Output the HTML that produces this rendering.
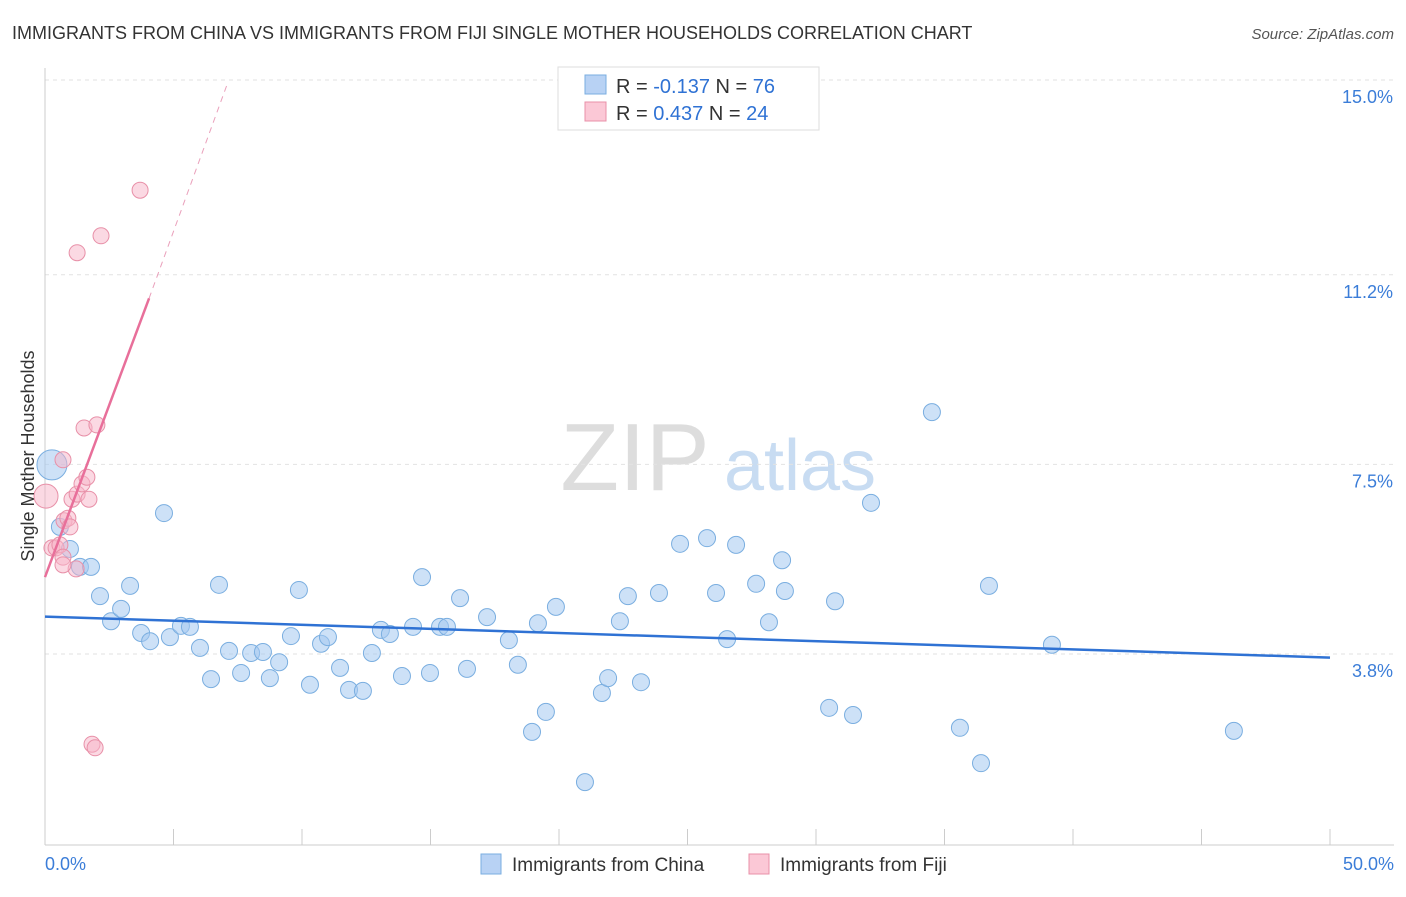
<!DOCTYPE html>
<html><head><meta charset="utf-8"><style>
body{margin:0;background:#fff;font-family:"Liberation Sans",sans-serif;}
svg text{font-family:"Liberation Sans",sans-serif;}
</style></head><body>
<svg id="chart" width="1406" height="892" xmlns="http://www.w3.org/2000/svg">
<text x="12" y="39" font-size="18" fill="#333">IMMIGRANTS FROM CHINA VS IMMIGRANTS FROM FIJI SINGLE MOTHER HOUSEHOLDS CORRELATION CHART</text>
<text x="1394" y="39" font-size="15" fill="#555" text-anchor="end" font-style="italic">Source: ZipAtlas.com</text>
<g>
<text x="635" y="490" font-size="96" fill="#ddd" font-family="Liberation Serif" text-anchor="middle">ZIP</text>
<text x="800" y="490" font-size="72" fill="#c8dcf2" text-anchor="middle">atlas</text>
</g>
<g id="grid"></g>
<g id="axes"></g>
<g id="marks"></g>
<text transform="translate(34,456) rotate(-90)" font-size="18" fill="#333" text-anchor="middle">Single Mother Households</text>
<g>
<rect x="558" y="67" width="261" height="63" fill="#fff" stroke="#ddd"/>
<rect x="585" y="75" width="21" height="19" fill="#b8d2f4" stroke="#7aaee0"/>
<rect x="585" y="102" width="21" height="19" fill="#fbc8d6" stroke="#e890a8"/>
<text x="616" y="93" font-size="20" fill="#333">R = <tspan fill="#2f72d4">-0.137</tspan>   N = <tspan fill="#2f72d4">76</tspan></text>
<text x="616" y="120" font-size="20" fill="#333">R =  <tspan fill="#2f72d4">0.437</tspan>   N = <tspan fill="#2f72d4">24</tspan></text>
</g>
<g>
<rect x="481" y="854" width="20" height="20" fill="#b8d2f4" stroke="#7aaee0"/>
<text x="512" y="871" font-size="19" fill="#333">Immigrants from China</text>
<rect x="749" y="854" width="20" height="20" fill="#fbc8d6" stroke="#e890a8"/>
<text x="780" y="871" font-size="19" fill="#333">Immigrants from Fiji</text>
</g>
</svg>
<script>
const yTicks=[15.0,11.2,7.5,3.8];
const yTickLabels=["15.0%","11.2%","7.5%","3.8%"];
const xTickLabels=["0.0%","50.0%"];
const chinaX=[0.27,0.58,0.97,1.36,1.79,2.14,2.57,2.96,3.31,3.74,4.09,4.86,4.63,5.29,5.64,6.03,6.46,6.77,7.16,7.63,8.02,8.48,8.75,9.11,9.57,9.88,10.31,10.74,11.01,11.48,11.83,12.37,12.72,13.07,13.42,13.89,14.32,14.67,14.98,15.37,15.64,16.15,16.42,17.2,18.05,18.4,18.95,19.18,19.49,19.88,21.01,21.67,21.91,22.37,22.68,23.19,23.89,24.71,25.76,26.11,26.54,26.89,27.67,28.17,28.68,28.79,30.51,30.74,31.44,32.14,34.51,35.6,36.42,36.73,39.18,46.26];
const chinaY=[7.49,6.28,5.85,5.5,5.5,4.93,4.44,4.68,5.13,4.21,4.05,4.13,6.55,4.35,4.33,3.92,3.31,5.15,3.86,3.43,3.82,3.84,3.33,3.64,4.15,5.05,3.2,4.0,4.13,3.53,3.1,3.08,3.82,4.27,4.19,3.37,4.33,5.3,3.43,4.33,4.33,4.89,3.51,4.52,4.07,3.59,2.28,4.4,2.67,4.72,1.3,3.04,3.33,4.44,4.93,3.25,4.99,5.95,6.06,4.99,4.09,5.93,5.17,4.42,5.63,5.03,2.75,4.83,2.61,6.75,8.52,2.36,1.67,5.13,3.98,2.3];
const fijiX=[0.04,0.27,0.43,0.58,0.7,0.74,0.89,0.97,1.21,0.7,0.7,1.05,1.25,1.44,1.63,1.71,1.52,2.02,1.25,2.18,3.7,1.83,1.95];
const fijiY=[6.88,5.87,5.87,5.93,5.69,6.4,6.45,6.28,5.46,5.54,7.59,6.82,6.92,7.12,7.25,6.82,8.21,8.27,11.63,11.96,12.85,2.04,1.97];
const chinaTrend=[[0,4.53],[50,3.73]];
const fijiTrend=[[0,5.3],[4.05,10.74]];
const fijiTrendExt=[[4.05,10.74],[7.12,14.96]];
const NS="http://www.w3.org/2000/svg";
const X=v=>45+v*25.7, Y=v=>80+(15-v)*51.25;
function mk(tag,attrs,parent){const e=document.createElementNS(NS,tag);for(const k in attrs)e.setAttribute(k,attrs[k]);document.getElementById(parent).appendChild(e);return e;}
yTicks.forEach((t,i)=>{
 const l=mk('line',{x1:45,x2:1394,y1:Y(t),y2:Y(t),stroke:'#e2e2e2','stroke-dasharray':'4,4'},'grid');
 
 
 const tx=mk('text',{x:1393,y:Y(t)+23,'font-size':18,fill:'#3b7dd8','text-anchor':'end'},'axes');
 tx.textContent=yTickLabels[i];
 
 
});
let a=mk('line',{x1:45,x2:45,y1:68,y2:845,stroke:'#ccc'},'axes');


a=mk('line',{x1:45,x2:1394,y1:845,y2:845,stroke:'#ccc'},'axes');


for(let i=0;i<=10;i++){const t=mk('line',{x1:X(i*5),x2:X(i*5),y1:829,y2:845,stroke:'#ccc'},'axes');
 
 }
[[0,45,'start'],[50,1394,'end']].forEach((d,i)=>{const t=mk('text',{x:d[1],y:870,'font-size':18,fill:'#3b7dd8','text-anchor':d[2]},'axes');t.textContent=xTickLabels[i];
 
 });
chinaX.forEach((v,i)=>{const c=mk('circle',{cx:X(v),cy:Y(chinaY[i]),r:i==0?15:8.5,fill:'rgba(164,200,240,0.55)',stroke:'#7aaee0','stroke-width':1},'marks');
 
 });
fijiX.forEach((v,i)=>{const c=mk('circle',{cx:X(v),cy:Y(fijiY[i]),r:i==0?12:8,fill:'rgba(248,180,200,0.5)',stroke:'#e890a8','stroke-width':1},'marks');
 
 });
let l=mk('line',{x1:X(chinaTrend[0][0]),y1:Y(chinaTrend[0][1]),x2:X(chinaTrend[1][0]),y2:Y(chinaTrend[1][1]),stroke:'#2f72d4','stroke-width':2.5},'marks');


l=mk('line',{x1:X(fijiTrend[0][0]),y1:Y(fijiTrend[0][1]),x2:X(fijiTrend[1][0]),y2:Y(fijiTrend[1][1]),stroke:'#e86f9a','stroke-width':2.5},'marks');


l=mk('line',{x1:X(fijiTrendExt[0][0]),y1:Y(fijiTrendExt[0][1]),x2:X(fijiTrendExt[1][0]),y2:Y(fijiTrendExt[1][1]),stroke:'#eaa0bb','stroke-width':1,'stroke-dasharray':'6,5'},'marks');


</script>
</body></html>
